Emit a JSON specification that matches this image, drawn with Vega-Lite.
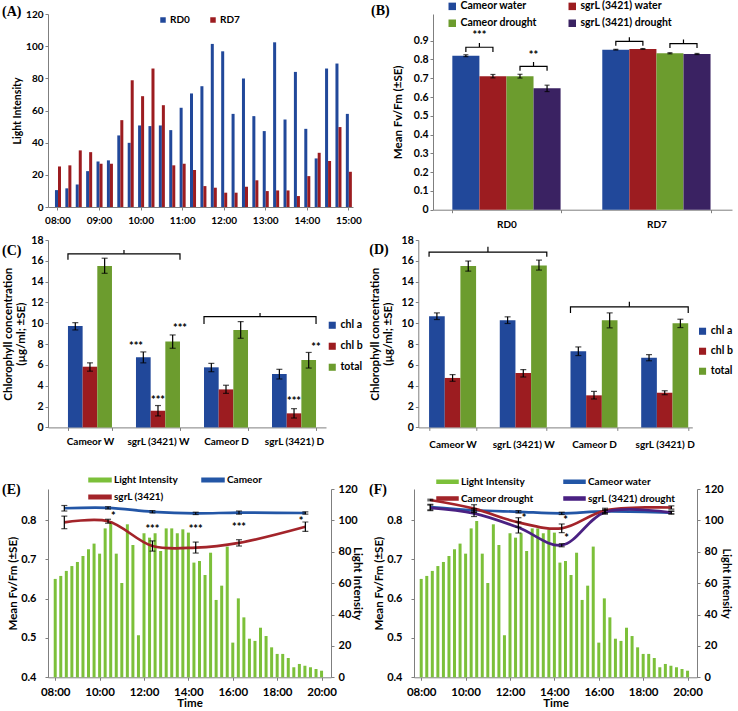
{
"$schema": "https://vega.github.io/schema/vega-lite/v6.json",
"padding": {"left": 2, "top": 1, "right": 0, "bottom": 0},
"spacing": 18,
"resolve": {"scale": {"color": "independent", "xOffset": "independent"}, "legend": {"color": "independent"}},
"config": {
  "font": "Lato",
  "view": {"stroke": null},
  "axis": {"labelFont": "Lato", "labelFontWeight": "bold", "labelColor": "#000", "labelFontSize": 10, "titleFont": "Lato", "titleFontWeight": "bold", "titleColor": "#000", "titleFontSize": 11, "domainColor": "#7f7f7f", "tickColor": "#7f7f7f", "tickSize": 3, "grid": false, "labelPadding": 2, "labelOverlap": false},
  "legend": {"labelFont": "Lato", "labelFontWeight": "bold", "labelColor": "#000", "labelFontSize": 10},
  "title": {"font": "Liberation Serif", "fontWeight": "bold", "fontSize": 14, "color": "#000", "anchor": "start", "frame": "group", "offset": 0},
  "text": {"font": "Lato", "fontWeight": "bold", "fontSize": 11, "baseline": "middle"}
},
"datasets": {
  "light": [
    {"t":8,"li":62.7,"k":"Light Intensity"},{"t":8.25,"li":64.6,"k":"Light Intensity"},{"t":8.5,"li":67.8,"k":"Light Intensity"},{"t":8.75,"li":70.9,"k":"Light Intensity"},
    {"t":9,"li":73.5,"k":"Light Intensity"},{"t":9.25,"li":77.3,"k":"Light Intensity"},{"t":9.5,"li":81.6,"k":"Light Intensity"},{"t":9.75,"li":85.2,"k":"Light Intensity"},
    {"t":10,"li":78.8,"k":"Light Intensity"},{"t":10.25,"li":94.9,"k":"Light Intensity"},{"t":10.5,"li":99.6,"k":"Light Intensity"},{"t":10.75,"li":78.8,"k":"Light Intensity"},
    {"t":11,"li":60.1,"k":"Light Intensity"},{"t":11.25,"li":97.5,"k":"Light Intensity"},{"t":11.5,"li":84.3,"k":"Light Intensity"},{"t":11.75,"li":26.8,"k":"Light Intensity"},
    {"t":12,"li":91.8,"k":"Light Intensity"},{"t":12.25,"li":89.0,"k":"Light Intensity"},{"t":12.5,"li":91.8,"k":"Light Intensity"},{"t":12.75,"li":80.5,"k":"Light Intensity"},
    {"t":13,"li":94.9,"k":"Light Intensity"},{"t":13.25,"li":94.9,"k":"Light Intensity"},{"t":13.5,"li":91.8,"k":"Light Intensity"},{"t":13.75,"li":94.3,"k":"Light Intensity"},
    {"t":14,"li":92.2,"k":"Light Intensity"},{"t":14.25,"li":73.1,"k":"Light Intensity"},{"t":14.5,"li":74.1,"k":"Light Intensity"},{"t":14.75,"li":65.2,"k":"Light Intensity"},
    {"t":15,"li":79.4,"k":"Light Intensity"},{"t":15.25,"li":49.3,"k":"Light Intensity"},{"t":15.5,"li":58.4,"k":"Light Intensity"},{"t":15.75,"li":83.3,"k":"Light Intensity"},
    {"t":16,"li":22.1,"k":"Light Intensity"},{"t":16.25,"li":50.3,"k":"Light Intensity"},{"t":16.5,"li":38.2,"k":"Light Intensity"},{"t":16.75,"li":24.6,"k":"Light Intensity"},
    {"t":17,"li":23.2,"k":"Light Intensity"},{"t":17.25,"li":31.6,"k":"Light Intensity"},{"t":17.5,"li":26.3,"k":"Light Intensity"},{"t":17.75,"li":19.1,"k":"Light Intensity"},
    {"t":18,"li":14.9,"k":"Light Intensity"},{"t":18.25,"li":14.9,"k":"Light Intensity"},{"t":18.5,"li":12.3,"k":"Light Intensity"},{"t":18.75,"li":6.4,"k":"Light Intensity"},
    {"t":19,"li":8.5,"k":"Light Intensity"},{"t":19.25,"li":7.4,"k":"Light Intensity"},{"t":19.5,"li":6.4,"k":"Light Intensity"},{"t":19.75,"li":5.3,"k":"Light Intensity"},
    {"t":20,"li":4.2,"k":"Light Intensity"}
  ],
  "bdata": [
    {"g":"RD0","s":"Cameor water","v":0.820,"lo":0.815,"hi":0.825},
    {"g":"RD0","s":"sgrL (3421) water","v":0.711,"lo":0.702,"hi":0.720},
    {"g":"RD0","s":"Cameor drought","v":0.711,"lo":0.701,"hi":0.721},
    {"g":"RD0","s":"sgrL (3421) drought","v":0.646,"lo":0.629,"hi":0.663},
    {"g":"RD7","s":"Cameor water","v":0.852,"lo":0.850,"hi":0.854},
    {"g":"RD7","s":"sgrL (3421) water","v":0.856,"lo":0.854,"hi":0.858},
    {"g":"RD7","s":"Cameor drought","v":0.833,"lo":0.830,"hi":0.836},
    {"g":"RD7","s":"sgrL (3421) drought","v":0.829,"lo":0.826,"hi":0.832}
  ],
  "cdata": [
    {"g":"Cameor W","s":"chl a","v":9.74,"lo":9.36,"hi":10.06},
    {"g":"Cameor W","s":"chl b","v":5.83,"lo":5.4,"hi":6.2},
    {"g":"Cameor W","s":"total","v":15.5,"lo":14.8,"hi":16.25},
    {"g":"sgrL (3421) W","s":"chl a","v":6.73,"lo":6.2,"hi":7.25},
    {"g":"sgrL (3421) W","s":"chl b","v":1.6,"lo":1.1,"hi":2.1},
    {"g":"sgrL (3421) W","s":"total","v":8.24,"lo":7.6,"hi":8.88},
    {"g":"Cameor D","s":"chl a","v":5.77,"lo":5.35,"hi":6.15},
    {"g":"Cameor D","s":"chl b","v":3.65,"lo":3.27,"hi":4.05},
    {"g":"Cameor D","s":"total","v":9.36,"lo":8.56,"hi":10.16},
    {"g":"sgrL (3421) D","s":"chl a","v":5.13,"lo":4.65,"hi":5.58},
    {"g":"sgrL (3421) D","s":"chl b","v":1.35,"lo":0.9,"hi":1.8},
    {"g":"sgrL (3421) D","s":"total","v":6.47,"lo":5.7,"hi":7.2}
  ],
  "ddata": [
    {"g":"Cameor W","s":"chl a","v":10.68,"lo":10.36,"hi":11.0},
    {"g":"Cameor W","s":"chl b","v":4.75,"lo":4.43,"hi":5.07},
    {"g":"Cameor W","s":"total","v":15.5,"lo":15.01,"hi":15.98},
    {"g":"sgrL (3421) W","s":"chl a","v":10.3,"lo":9.98,"hi":10.62},
    {"g":"sgrL (3421) W","s":"chl b","v":5.23,"lo":4.84,"hi":5.55},
    {"g":"sgrL (3421) W","s":"total","v":15.56,"lo":15.11,"hi":16.07},
    {"g":"Cameor D","s":"chl a","v":7.31,"lo":6.9,"hi":7.73},
    {"g":"Cameor D","s":"chl b","v":3.08,"lo":2.73,"hi":3.46},
    {"g":"Cameor D","s":"total","v":10.3,"lo":9.56,"hi":11.0},
    {"g":"sgrL (3421) D","s":"chl a","v":6.7,"lo":6.4,"hi":6.99},
    {"g":"sgrL (3421) D","s":"chl b","v":3.33,"lo":3.14,"hi":3.52},
    {"g":"sgrL (3421) D","s":"total","v":10.0,"lo":9.59,"hi":10.39}
  ]
},
"vconcat": [
{
  "spacing": 5,
  "resolve": {"scale": {"color": "independent", "xOffset": "independent"}, "legend": {"color": "independent"}},
  "vconcat": [
  {
    "spacing": 80,
    "bounds": "flush",
    "resolve": {"scale": {"color": "independent", "xOffset": "independent"}, "legend": {"color": "independent"}},
    "hconcat": [
    {
      "width": 305, "height": 193,
      "title": {"text": "(A)", "dx": -46, "offset": 2, "dy": 12},
      "data": {"values": [
        {"t":"08:00","s":"RD0","v":10.5},{"t":"08:15","s":"RD0","v":11.6},{"t":"08:30","s":"RD0","v":14},{"t":"08:45","s":"RD0","v":22.3},{"t":"09:00","s":"RD0","v":28.3},{"t":"09:15","s":"RD0","v":29},{"t":"09:30","s":"RD0","v":44.5},{"t":"09:45","s":"RD0","v":39.9},{"t":"10:00","s":"RD0","v":50.7},{"t":"10:15","s":"RD0","v":50.3},{"t":"10:30","s":"RD0","v":50.7},{"t":"10:45","s":"RD0","v":47.8},{"t":"11:00","s":"RD0","v":61.7},{"t":"11:15","s":"RD0","v":70.6},{"t":"11:30","s":"RD0","v":75.1},{"t":"11:45","s":"RD0","v":101.4},{"t":"12:00","s":"RD0","v":96.8},{"t":"12:15","s":"RD0","v":57.9},{"t":"12:30","s":"RD0","v":79.9},{"t":"12:45","s":"RD0","v":56.5},{"t":"13:00","s":"RD0","v":47.2},{"t":"13:15","s":"RD0","v":102.4},{"t":"13:30","s":"RD0","v":54.4},{"t":"13:45","s":"RD0","v":84},{"t":"14:00","s":"RD0","v":48.6},{"t":"14:15","s":"RD0","v":30.2},{"t":"14:30","s":"RD0","v":86.1},{"t":"14:45","s":"RD0","v":89.2},{"t":"15:00","s":"RD0","v":57.9},
        {"t":"08:00","s":"RD7","v":25.2},{"t":"08:15","s":"RD7","v":25.9},{"t":"08:30","s":"RD7","v":35.2},{"t":"08:45","s":"RD7","v":34.1},{"t":"09:00","s":"RD7","v":26.9},{"t":"09:15","s":"RD7","v":26.9},{"t":"09:30","s":"RD7","v":54},{"t":"09:45","s":"RD7","v":78.8},{"t":"10:00","s":"RD7","v":68.9},{"t":"10:15","s":"RD7","v":86.1},{"t":"10:30","s":"RD7","v":63.3},{"t":"10:45","s":"RD7","v":25.9},{"t":"11:00","s":"RD7","v":26.9},{"t":"11:15","s":"RD7","v":23},{"t":"11:30","s":"RD7","v":13},{"t":"11:45","s":"RD7","v":12},{"t":"12:00","s":"RD7","v":8.9},{"t":"12:15","s":"RD7","v":8.9},{"t":"12:30","s":"RD7","v":12.6},{"t":"12:45","s":"RD7","v":16.6},{"t":"13:00","s":"RD7","v":9.9},{"t":"13:15","s":"RD7","v":10.3},{"t":"13:30","s":"RD7","v":10.3},{"t":"13:45","s":"RD7","v":6.8},{"t":"14:00","s":"RD7","v":19.2},{"t":"14:15","s":"RD7","v":33.7},{"t":"14:30","s":"RD7","v":28.6},{"t":"14:45","s":"RD7","v":49.7},{"t":"15:00","s":"RD7","v":21.9}
      ]},
      "mark": {"type": "bar"},
      "encoding": {
        "x": {"field": "t", "type": "ordinal", "scale": {"paddingInner": 0.42, "paddingOuter": 0.39, "align": 0.86}, "axis": {"values": ["08:00","09:00","10:00","11:00","12:00","13:00","14:00","15:00"], "labelAngle": 0, "title": null, "labelPadding": 5, "labelFontSize": 10}},
        "xOffset": {"field": "s", "type": "nominal", "scale": {"domain": ["RD0","RD7"], "paddingInner": 0, "paddingOuter": 0}},
        "y": {"field": "v", "type": "quantitative", "scale": {"domain": [0, 120], "nice": false}, "axis": {"values": [0,20,40,60,80,100,120], "title": "Light Intensity", "titleFontSize": 10.5, "titlePadding": 3}},
        "color": {"field": "s", "type": "nominal", "scale": {"domain": ["RD0","RD7"], "range": ["#21489A","#9C1C20"]}, "legend": {"title": null, "orient": "none", "legendX": 110, "legendY": 1, "direction": "horizontal", "symbolType": "square", "symbolSize": 30, "columnPadding": 18, "labelOffset": 2, "labelFontSize": 10}}
      }
    },
    {
      "width": 299, "height": 195.7,
      "title": {"text": "(B)", "dx": -62, "offset": 1, "dy": 18},
      "layer": [
        {
          "data": {"name": "bdata"},
          "mark": {"type": "bar"},
          "encoding": {
            "x": {"field": "g", "type": "nominal", "scale": {"type": "band", "domain": ["RD0","RD7"], "paddingInner": 0.278, "paddingOuter": 0.136, "align": 0.474}, "axis": {"title": null, "labelAngle": 0, "tickBand": "extent", "labelPadding": 7, "labelFontSize": 10}},
            "xOffset": {"field": "s", "type": "nominal", "scale": {"domain": ["Cameor water","sgrL (3421) water","Cameor drought","sgrL (3421) drought"], "paddingInner": 0, "paddingOuter": 0}},
            "y": {"field": "v", "type": "quantitative", "scale": {"domain": [0, 1.042], "nice": false}, "axis": {"values": [0,0.1,0.2,0.3,0.4,0.5,0.6,0.7,0.8,0.9], "tickCount": 20, "labelOverlap": false, "labelExpr": "datum.value == 0 ? '0' : format(datum.value, '.1f')", "title": "Mean Fv/Fm (±SE)", "titleFontSize": 11.5, "titlePadding": 10, "labelFontSize": 10.5}},
            "color": {"field": "s", "type": "nominal", "scale": {"domain": ["Cameor water","sgrL (3421) water","Cameor drought","sgrL (3421) drought"], "range": ["#21489A","#9C1C20","#6C9C2E","#3A2262"]}, "legend": {"title": null, "orient": "none", "legendX": 14, "legendY": -13, "columns": 2, "direction": "horizontal", "symbolType": "square", "symbolSize": 56, "rowPadding": 6, "columnPadding": 30, "labelOffset": 3, "labelFontSize": 10.5}}
          }
        },
        {
          "data": {"name": "bdata"},
          "mark": {"type": "rule", "color": "#000", "strokeWidth": 1.2},
          "encoding": {
            "x": {"field": "g", "type": "nominal", "scale": {"type": "band"}},
            "xOffset": {"field": "s", "type": "nominal", "scale": {"domain": ["Cameor water","sgrL (3421) water","Cameor drought","sgrL (3421) drought"], "paddingInner": 0, "paddingOuter": 0}},
            "y": {"field": "lo", "type": "quantitative"},
            "y2": {"field": "hi"}
          }
        },
        {
          "data": {"name": "bdata"},
          "mark": {"type": "tick", "orient": "horizontal", "color": "#000", "size": 5, "thickness": 1.2},
          "encoding": {
            "x": {"field": "g", "type": "nominal", "scale": {"type": "band"}},
            "xOffset": {"field": "s", "type": "nominal", "scale": {"domain": ["Cameor water","sgrL (3421) water","Cameor drought","sgrL (3421) drought"], "paddingInner": 0, "paddingOuter": 0}},
            "y": {"field": "lo", "type": "quantitative"}
          }
        },
        {
          "data": {"name": "bdata"},
          "mark": {"type": "tick", "orient": "horizontal", "color": "#000", "size": 5, "thickness": 1.2},
          "encoding": {
            "x": {"field": "g", "type": "nominal", "scale": {"type": "band"}},
            "xOffset": {"field": "s", "type": "nominal", "scale": {"domain": ["Cameor water","sgrL (3421) water","Cameor drought","sgrL (3421) drought"], "paddingInner": 0, "paddingOuter": 0}},
            "y": {"field": "hi", "type": "quantitative"}
          }
        },
        {
          "data": {"values": [
            {"g":"RD0","b":"b1","o":1,"p":"p1","y":0.840},{"g":"RD0","b":"b1","o":2,"p":"p1","y":0.865},{"g":"RD0","b":"b1","o":3,"p":"p2","y":0.865},{"g":"RD0","b":"b1","o":4,"p":"p2","y":0.888},{"g":"RD0","b":"b1","o":5,"p":"p2","y":0.865},{"g":"RD0","b":"b1","o":6,"p":"p3","y":0.865},{"g":"RD0","b":"b1","o":7,"p":"p3","y":0.840},
            {"g":"RD0","b":"b2","o":1,"p":"p5","y":0.740},{"g":"RD0","b":"b2","o":2,"p":"p5","y":0.763},{"g":"RD0","b":"b2","o":3,"p":"p6","y":0.763},{"g":"RD0","b":"b2","o":4,"p":"p6","y":0.786},{"g":"RD0","b":"b2","o":5,"p":"p6","y":0.763},{"g":"RD0","b":"b2","o":6,"p":"p7","y":0.763},{"g":"RD0","b":"b2","o":7,"p":"p7","y":0.740},
            {"g":"RD7","b":"b3","o":1,"p":"p1","y":0.873},{"g":"RD7","b":"b3","o":2,"p":"p1","y":0.896},{"g":"RD7","b":"b3","o":3,"p":"p2","y":0.896},{"g":"RD7","b":"b3","o":4,"p":"p2","y":0.918},{"g":"RD7","b":"b3","o":5,"p":"p2","y":0.896},{"g":"RD7","b":"b3","o":6,"p":"p3","y":0.896},{"g":"RD7","b":"b3","o":7,"p":"p3","y":0.873},
            {"g":"RD7","b":"b4","o":1,"p":"p5","y":0.861},{"g":"RD7","b":"b4","o":2,"p":"p5","y":0.884},{"g":"RD7","b":"b4","o":3,"p":"p6","y":0.884},{"g":"RD7","b":"b4","o":4,"p":"p6","y":0.906},{"g":"RD7","b":"b4","o":5,"p":"p6","y":0.884},{"g":"RD7","b":"b4","o":6,"p":"p7","y":0.884},{"g":"RD7","b":"b4","o":7,"p":"p7","y":0.861}
          ]},
          "mark": {"type": "line", "color": "#000", "strokeWidth": 1.2},
          "encoding": {
            "x": {"field": "g", "type": "nominal", "scale": {"type": "band"}},
            "xOffset": {"field": "p", "type": "nominal", "scale": {"type": "point", "domain": ["p0","p1","p2","p3","p4","p5","p6","p7","p8"], "padding": 0}},
            "y": {"field": "y", "type": "quantitative"},
            "detail": {"field": "b"},
            "order": {"field": "o", "type": "quantitative"}
          }
        },
        {
          "data": {"values": [
            {"g":"RD0","p":"p2","y":0.925,"k":"***"},
            {"g":"RD0","p":"p6","y":0.818,"k":"**"}
          ]},
          "mark": {"type": "text"},
          "encoding": {
            "x": {"field": "g", "type": "nominal", "scale": {"type": "band"}},
            "xOffset": {"field": "p", "type": "nominal", "scale": {"type": "point", "domain": ["p0","p1","p2","p3","p4","p5","p6","p7","p8"], "padding": 0}},
            "y": {"field": "y", "type": "quantitative"},
            "text": {"field": "k"}
          }
        }
      ],
      "resolve": {"scale": {"xOffset": "independent"}}
    }
    ]
  },
  {
    "spacing": 92.3,
    "bounds": "flush",
    "resolve": {"scale": {"color": "independent", "xOffset": "independent"}, "legend": {"color": "independent"}},
    "hconcat": [
    {
      "width": 278, "height": 187.4,
      "title": {"text": "(C)", "dx": -46, "offset": -23},
      "layer": [
        {
          "data": {"name": "cdata"},
          "mark": {"type": "bar"},
          "encoding": {
            "x": {"field": "g", "type": "nominal", "scale": {"type": "band", "domain": ["Cameor W","sgrL (3421) W","Cameor D","sgrL (3421) D"], "paddingInner": 0.353, "paddingOuter": 0.22, "align": 0.667}, "axis": {"title": null, "labelAngle": 0, "tickBand": "extent", "labelPadding": 6, "labelFontSize": 10}},
            "xOffset": {"field": "s", "type": "nominal", "scale": {"domain": ["chl a","chl b","total"], "paddingInner": 0, "paddingOuter": 0}},
            "y": {"field": "v", "type": "quantitative", "scale": {"domain": [0, 18], "nice": false}, "axis": {"values": [0,2,4,6,8,10,12,14,16,18], "tickCount": 20, "labelOverlap": false, "title": ["Chlorophyll concentration", "(µg/ml; ±SE)"], "titleFontSize": 11.5, "titleLineHeight": 13, "titlePadding": 4, "labelFontSize": 10.5}},
            "color": {"field": "s", "type": "nominal", "scale": {"domain": ["chl a","chl b","total"], "range": ["#21489A","#9C1C20","#6C9C2E"]}, "legend": {"title": null, "orient": "none", "legendX": 279, "legendY": 80, "symbolType": "square", "symbolSize": 50, "rowPadding": 10, "labelOffset": 3, "labelFontSize": 10.5}}
          }
        },
        {
          "data": {"name": "cdata"},
          "mark": {"type": "rule", "color": "#000", "strokeWidth": 1.2},
          "encoding": {
            "x": {"field": "g", "type": "nominal", "scale": {"type": "band"}},
            "xOffset": {"field": "s", "type": "nominal", "scale": {"domain": ["chl a","chl b","total"], "paddingInner": 0, "paddingOuter": 0}},
            "y": {"field": "lo", "type": "quantitative"},
            "y2": {"field": "hi"}
          }
        },
        {
          "data": {"name": "cdata"},
          "mark": {"type": "tick", "orient": "horizontal", "color": "#000", "size": 6, "thickness": 1.2},
          "encoding": {
            "x": {"field": "g", "type": "nominal", "scale": {"type": "band"}},
            "xOffset": {"field": "s", "type": "nominal", "scale": {"domain": ["chl a","chl b","total"], "paddingInner": 0, "paddingOuter": 0}},
            "y": {"field": "lo", "type": "quantitative"}
          }
        },
        {
          "data": {"name": "cdata"},
          "mark": {"type": "tick", "orient": "horizontal", "color": "#000", "size": 6, "thickness": 1.2},
          "encoding": {
            "x": {"field": "g", "type": "nominal", "scale": {"type": "band"}},
            "xOffset": {"field": "s", "type": "nominal", "scale": {"domain": ["chl a","chl b","total"], "paddingInner": 0, "paddingOuter": 0}},
            "y": {"field": "hi", "type": "quantitative"}
          }
        },
        {
          "data": {"values": [
            {"g":"sgrL (3421) W","s":"chl a","y":7.75,"k":"***"},
            {"g":"sgrL (3421) W","s":"chl b","y":2.55,"k":"***"},
            {"g":"sgrL (3421) W","s":"total","y":9.45,"k":"***"},
            {"g":"sgrL (3421) D","s":"chl b","y":2.45,"k":"***"},
            {"g":"sgrL (3421) D","s":"total","y":7.65,"k":"**"}
          ]},
          "mark": {"type": "text"},
          "encoding": {
            "x": {"field": "g", "type": "nominal", "scale": {"type": "band"}},
            "xOffset": {"field": "s", "type": "nominal", "scale": {"domain": ["chl a","chl b","total"], "paddingInner": 0, "paddingOuter": 0}},
            "y": {"field": "y", "type": "quantitative"},
            "text": {"field": "k"}
          }
        },
        {
          "data": {"values": [
            {"g":"Cameor W","b":"b1","o":1,"p":"L","y":16.1},{"g":"Cameor W","b":"b1","o":2,"p":"L","y":16.67},{"g":"sgrL (3421) W","b":"b1","o":3,"p":"R","y":16.67},{"g":"sgrL (3421) W","b":"b1","o":4,"p":"R","y":16.1},
            {"g":"Cameor D","b":"b2","o":1,"p":"L","y":9.94},{"g":"Cameor D","b":"b2","o":2,"p":"L","y":10.64},{"g":"sgrL (3421) D","b":"b2","o":3,"p":"R","y":10.64},{"g":"sgrL (3421) D","b":"b2","o":4,"p":"R","y":9.94}
          ]},
          "mark": {"type": "line", "color": "#000", "strokeWidth": 1.2},
          "encoding": {
            "x": {"field": "g", "type": "nominal", "scale": {"type": "band"}},
            "xOffset": {"field": "p", "type": "nominal", "scale": {"type": "point", "domain": ["L","R"], "padding": 0}},
            "y": {"field": "y", "type": "quantitative"},
            "detail": {"field": "b"},
            "order": {"field": "o", "type": "quantitative"}
          }
        },
        {
          "data": {"values": [
            {"g":"Cameor W","y":16.67,"y2":17.05},
            {"g":"Cameor D","y":10.64,"y2":11.0}
          ]},
          "mark": {"type": "rule", "color": "#000", "strokeWidth": 1.2},
          "encoding": {
            "x": {"field": "g", "type": "nominal", "bandPosition": 1.273, "scale": {"type": "band"}},
            "y": {"field": "y", "type": "quantitative"},
            "y2": {"field": "y2"}
          }
        }
      ],
      "resolve": {"scale": {"xOffset": "independent"}}
    },
    {
      "width": 274, "height": 187.4,
      "title": {"text": "(D)", "dx": -49, "offset": -22},
      "layer": [
        {
          "data": {"name": "ddata"},
          "mark": {"type": "bar"},
          "encoding": {
            "x": {"field": "g", "type": "nominal", "scale": {"type": "band", "domain": ["Cameor W","sgrL (3421) W","Cameor D","sgrL (3421) D"], "paddingInner": 0.335, "paddingOuter": 0.105, "align": 0.725}, "axis": {"title": null, "labelAngle": 0, "tickBand": "extent", "labelPadding": 9, "labelFontSize": 10}},
            "xOffset": {"field": "s", "type": "nominal", "scale": {"domain": ["chl a","chl b","total"], "paddingInner": 0, "paddingOuter": 0}},
            "y": {"field": "v", "type": "quantitative", "scale": {"domain": [0, 18], "nice": false}, "axis": {"values": [0,2,4,6,8,10,12,14,16,18], "tickCount": 20, "labelOverlap": false, "title": ["Chlorophyll concentration", "(µg/ml; ±SE)"], "titleFontSize": 11.5, "titleLineHeight": 13, "titlePadding": 8, "labelFontSize": 10.5}},
            "color": {"field": "s", "type": "nominal", "scale": {"domain": ["chl a","chl b","total"], "range": ["#21489A","#9C1C20","#6C9C2E"]}, "legend": {"title": null, "orient": "none", "legendX": 279, "legendY": 86, "symbolType": "square", "symbolSize": 50, "rowPadding": 9, "labelOffset": 3, "labelFontSize": 10.5}}
          }
        },
        {
          "data": {"name": "ddata"},
          "mark": {"type": "rule", "color": "#000", "strokeWidth": 1.2},
          "encoding": {
            "x": {"field": "g", "type": "nominal", "scale": {"type": "band"}},
            "xOffset": {"field": "s", "type": "nominal", "scale": {"domain": ["chl a","chl b","total"], "paddingInner": 0, "paddingOuter": 0}},
            "y": {"field": "lo", "type": "quantitative"},
            "y2": {"field": "hi"}
          }
        },
        {
          "data": {"name": "ddata"},
          "mark": {"type": "tick", "orient": "horizontal", "color": "#000", "size": 6, "thickness": 1.2},
          "encoding": {
            "x": {"field": "g", "type": "nominal", "scale": {"type": "band"}},
            "xOffset": {"field": "s", "type": "nominal", "scale": {"domain": ["chl a","chl b","total"], "paddingInner": 0, "paddingOuter": 0}},
            "y": {"field": "lo", "type": "quantitative"}
          }
        },
        {
          "data": {"name": "ddata"},
          "mark": {"type": "tick", "orient": "horizontal", "color": "#000", "size": 6, "thickness": 1.2},
          "encoding": {
            "x": {"field": "g", "type": "nominal", "scale": {"type": "band"}},
            "xOffset": {"field": "s", "type": "nominal", "scale": {"domain": ["chl a","chl b","total"], "paddingInner": 0, "paddingOuter": 0}},
            "y": {"field": "hi", "type": "quantitative"}
          }
        },
        {
          "data": {"values": [
            {"g":"Cameor W","b":"b1","o":1,"p":"L","y":16.4},{"g":"Cameor W","b":"b1","o":2,"p":"L","y":16.84},{"g":"sgrL (3421) W","b":"b1","o":3,"p":"R","y":16.84},{"g":"sgrL (3421) W","b":"b1","o":4,"p":"R","y":16.4},
            {"g":"Cameor D","b":"b2","o":1,"p":"L","y":11.0},{"g":"Cameor D","b":"b2","o":2,"p":"L","y":11.58},{"g":"sgrL (3421) D","b":"b2","o":3,"p":"R","y":11.58},{"g":"sgrL (3421) D","b":"b2","o":4,"p":"R","y":11.0}
          ]},
          "mark": {"type": "line", "color": "#000", "strokeWidth": 1.2},
          "encoding": {
            "x": {"field": "g", "type": "nominal", "scale": {"type": "band"}},
            "xOffset": {"field": "p", "type": "nominal", "scale": {"type": "point", "domain": ["L","R"], "padding": 0}},
            "y": {"field": "y", "type": "quantitative"},
            "detail": {"field": "b"},
            "order": {"field": "o", "type": "quantitative"}
          }
        },
        {
          "data": {"values": [
            {"g":"Cameor W","y":16.84,"y2":17.35},
            {"g":"Cameor D","y":11.58,"y2":12.07}
          ]},
          "mark": {"type": "rule", "color": "#000", "strokeWidth": 1.2},
          "encoding": {
            "x": {"field": "g", "type": "nominal", "bandPosition": 1.252, "scale": {"type": "band"}},
            "y": {"field": "y", "type": "quantitative"},
            "y2": {"field": "y2"}
          }
        }
      ],
      "resolve": {"scale": {"xOffset": "independent"}}
    }
    ]
  }
  ]
},
{
  "spacing": 83,
  "bounds": "flush",
  "resolve": {"scale": {"color": "independent", "xOffset": "independent"}, "legend": {"color": "independent"}},
  "hconcat": [
  {
    "width": 283, "height": 188.3,
    "title": {"text": "(E)", "dx": -46, "offset": 0, "dy": 28.5},
    "layer": [
      {
        "data": {"name": "light"},
        "mark": {"type": "bar", "size": 3},
        "encoding": {
          "x": {"field": "t", "type": "quantitative", "scale": {"domain": [7.9, 20.2], "nice": false, "zero": false}, "axis": {"values": [8,10,12,14,16,18,20], "labelExpr": "(datum.value < 10 ? '0' : '') + datum.value + ':00'", "title": "Time", "titleFontSize": 11.5, "titlePadding": 0, "labelPadding": 6, "labelFontSize": 11.5}},
          "y": {"field": "li", "type": "quantitative", "scale": {"domain": [0, 120], "nice": false}, "axis": {"orient": "right", "values": [0,20,40,60,80,100,120], "title": "Light Intensity", "titleFontSize": 11.5, "titlePadding": -6, "labelPadding": 4, "labelFontSize": 11}},
          "color": {"field": "k", "type": "nominal", "scale": {"domain": ["Light Intensity","Cameor","sgrL (3421)"], "range": ["#7CC03A","#2356A6","#A3242A"]}, "legend": {"title": null, "orient": "none", "legendX": 40, "legendY": -21, "columns": 2, "direction": "horizontal", "gridAlign": "each", "symbolType": "M-1,-0.15H1V0.15H-1Z", "symbolSize": 484, "rowPadding": -6, "columnPadding": 21, "labelOffset": 2, "labelFontSize": 10}}
        }
      },
      {
        "layer": [
          {
            "data": {"values": [
              {"t":8.41,"s":"Cameor","v":0.830},{"t":10.38,"s":"Cameor","v":0.831},{"t":12.38,"s":"Cameor","v":0.821},{"t":14.33,"s":"Cameor","v":0.817},{"t":16.28,"s":"Cameor","v":0.819},{"t":19.27,"s":"Cameor","v":0.818},
              {"t":8.41,"s":"sgrL (3421)","v":0.794},{"t":10.38,"s":"sgrL (3421)","v":0.797},{"t":12.38,"s":"sgrL (3421)","v":0.734},{"t":14.33,"s":"sgrL (3421)","v":0.730},{"t":16.28,"s":"sgrL (3421)","v":0.742},{"t":19.27,"s":"sgrL (3421)","v":0.783}
            ]},
            "mark": {"type": "line", "interpolate": "catmull-rom", "strokeWidth": 2.7},
            "encoding": {
              "x": {"field": "t", "type": "quantitative", "scale": {"domain": [7.9, 20.2], "nice": false, "zero": false}},
              "y": {"field": "v", "type": "quantitative", "scale": {"domain": [0.4, 0.879], "nice": false, "zero": false}, "axis": {"orient": "left", "values": [0.4,0.5,0.6,0.7,0.8], "tickCount": 20, "format": ".1f", "title": "Mean Fv/Fm (±SE)", "titleFontSize": 11.5, "titlePadding": 2, "labelPadding": 9, "labelFontSize": 11}},
              "color": {"field": "s", "type": "nominal"}
            }
          },
          {
            "data": {"values": [
              {"t":8.41,"lo":0.823,"hi":0.837},{"t":10.38,"lo":0.828,"hi":0.834},{"t":12.38,"lo":0.818,"hi":0.824},{"t":14.33,"lo":0.814,"hi":0.820},{"t":16.28,"lo":0.815,"hi":0.823},{"t":19.27,"lo":0.815,"hi":0.821},
              {"t":8.41,"lo":0.778,"hi":0.810},{"t":10.38,"lo":0.792,"hi":0.802},{"t":12.38,"lo":0.721,"hi":0.747},{"t":14.33,"lo":0.716,"hi":0.744},{"t":16.28,"lo":0.734,"hi":0.750},{"t":19.27,"lo":0.771,"hi":0.795}
            ]},
            "layer": [
              {"mark": {"type": "rule", "color": "#000", "strokeWidth": 1.2}, "encoding": {"x": {"field": "t", "type": "quantitative"}, "y": {"field": "lo", "type": "quantitative"}, "y2": {"field": "hi"}}},
              {"mark": {"type": "tick", "orient": "horizontal", "color": "#000", "size": 6, "thickness": 1.2}, "encoding": {"x": {"field": "t", "type": "quantitative"}, "y": {"field": "lo", "type": "quantitative"}}},
              {"mark": {"type": "tick", "orient": "horizontal", "color": "#000", "size": 6, "thickness": 1.2}, "encoding": {"x": {"field": "t", "type": "quantitative"}, "y": {"field": "hi", "type": "quantitative"}}}
            ]
          },
          {
            "data": {"values": [
              {"t":10.62,"y":0.807,"k":"*"},{"t":12.38,"y":0.775,"k":"***"},{"t":14.33,"y":0.775,"k":"***"},{"t":16.28,"y":0.780,"k":"***"},{"t":19.08,"y":0.796,"k":"*"}
            ]},
            "mark": {"type": "text"},
            "encoding": {"x": {"field": "t", "type": "quantitative"}, "y": {"field": "y", "type": "quantitative"}, "text": {"field": "k"}}
          }
        ]
      }
    ],
    "resolve": {"scale": {"y": "independent"}}
  },
  {
    "width": 283, "height": 188.3,
    "title": {"text": "(F)", "dx": -45, "offset": 0, "dy": 27},
    "layer": [
      {
        "data": {"name": "light"},
        "mark": {"type": "bar", "size": 3},
        "encoding": {
          "x": {"field": "t", "type": "quantitative", "scale": {"domain": [7.9, 20.2], "nice": false, "zero": false}, "axis": {"values": [8,10,12,14,16,18,20], "labelExpr": "(datum.value < 10 ? '0' : '') + datum.value + ':00'", "title": "Time", "titleFontSize": 11.5, "titlePadding": 0, "labelPadding": 6, "labelFontSize": 11.5}},
          "y": {"field": "li", "type": "quantitative", "scale": {"domain": [0, 120], "nice": false}, "axis": {"orient": "right", "values": [0,20,40,60,80,100,120], "title": "Light Intensity", "titleFontSize": 11, "titlePadding": -3, "labelPadding": 4, "labelFontSize": 11}},
          "color": {"field": "k", "type": "nominal", "scale": {"domain": ["Light Intensity","Cameor water","Cameor drought","sgrL (3421) drought"], "range": ["#7CC03A","#2356A6","#A3242A","#4A2182"]}, "legend": {"title": null, "orient": "none", "legendX": 22, "legendY": -19, "columns": 2, "direction": "horizontal", "gridAlign": "each", "symbolType": "M-1,-0.15H1V0.15H-1Z", "symbolSize": 441, "rowPadding": -6, "columnPadding": 27, "labelOffset": 2, "labelFontSize": 10}}
        }
      },
      {
        "layer": [
          {
            "data": {"values": [
              {"t":8.41,"s":"Cameor water","v":0.833},{"t":10.38,"s":"Cameor water","v":0.825},{"t":12.38,"s":"Cameor water","v":0.821},{"t":14.33,"s":"Cameor water","v":0.817},{"t":16.28,"s":"Cameor water","v":0.822},{"t":19.27,"s":"Cameor water","v":0.819},
              {"t":8.41,"s":"Cameor drought","v":0.851},{"t":10.38,"s":"Cameor drought","v":0.829},{"t":12.38,"s":"Cameor drought","v":0.794},{"t":14.33,"s":"Cameor drought","v":0.779},{"t":16.28,"s":"Cameor drought","v":0.824},{"t":19.27,"s":"Cameor drought","v":0.832},
              {"t":8.41,"s":"sgrL (3421) drought","v":0.831},{"t":10.38,"s":"sgrL (3421) drought","v":0.817},{"t":12.38,"s":"sgrL (3421) drought","v":0.781},{"t":14.33,"s":"sgrL (3421) drought","v":0.736},{"t":16.28,"s":"sgrL (3421) drought","v":0.820},{"t":19.27,"s":"sgrL (3421) drought","v":0.819}
            ]},
            "mark": {"type": "line", "interpolate": "catmull-rom", "strokeWidth": 2.7},
            "encoding": {
              "x": {"field": "t", "type": "quantitative", "scale": {"domain": [7.9, 20.2], "nice": false, "zero": false}},
              "y": {"field": "v", "type": "quantitative", "scale": {"domain": [0.4, 0.879], "nice": false, "zero": false}, "axis": {"orient": "left", "values": [0.4,0.5,0.6,0.7,0.8], "tickCount": 20, "format": ".1f", "title": "Mean Fv/Fm (±SE)", "titleFontSize": 11.5, "titlePadding": 2, "labelPadding": 9, "labelFontSize": 11}},
              "color": {"field": "s", "type": "nominal"}
            }
          },
          {
            "data": {"values": [
              {"t":8.41,"lo":0.826,"hi":0.840},{"t":10.38,"lo":0.821,"hi":0.829},{"t":12.38,"lo":0.818,"hi":0.824},{"t":14.33,"lo":0.814,"hi":0.820},{"t":16.28,"lo":0.818,"hi":0.826},{"t":19.27,"lo":0.816,"hi":0.822},
              {"t":8.41,"lo":0.849,"hi":0.853},{"t":10.38,"lo":0.819,"hi":0.839},{"t":12.38,"lo":0.782,"hi":0.806},{"t":14.33,"lo":0.768,"hi":0.790},{"t":16.28,"lo":0.818,"hi":0.830},{"t":19.27,"lo":0.828,"hi":0.836},
              {"t":8.41,"lo":0.824,"hi":0.838},{"t":10.38,"lo":0.809,"hi":0.825},{"t":12.38,"lo":0.767,"hi":0.795},{"t":14.33,"lo":0.732,"hi":0.740},{"t":16.28,"lo":0.815,"hi":0.825},{"t":19.27,"lo":0.815,"hi":0.823}
            ]},
            "layer": [
              {"mark": {"type": "rule", "color": "#000", "strokeWidth": 1.2}, "encoding": {"x": {"field": "t", "type": "quantitative"}, "y": {"field": "lo", "type": "quantitative"}, "y2": {"field": "hi"}}},
              {"mark": {"type": "tick", "orient": "horizontal", "color": "#000", "size": 6, "thickness": 1.2}, "encoding": {"x": {"field": "t", "type": "quantitative"}, "y": {"field": "lo", "type": "quantitative"}}},
              {"mark": {"type": "tick", "orient": "horizontal", "color": "#000", "size": 6, "thickness": 1.2}, "encoding": {"x": {"field": "t", "type": "quantitative"}, "y": {"field": "hi", "type": "quantitative"}}}
            ]
          },
          {
            "data": {"values": [
              {"t":12.64,"y":0.802,"k":"*"},{"t":14.5,"y":0.798,"k":"*"},{"t":14.55,"y":0.751,"k":"*"}
            ]},
            "mark": {"type": "text"},
            "encoding": {"x": {"field": "t", "type": "quantitative"}, "y": {"field": "y", "type": "quantitative"}, "text": {"field": "k"}}
          }
        ]
      }
    ],
    "resolve": {"scale": {"y": "independent"}}
  }
  ]
}
]
}
